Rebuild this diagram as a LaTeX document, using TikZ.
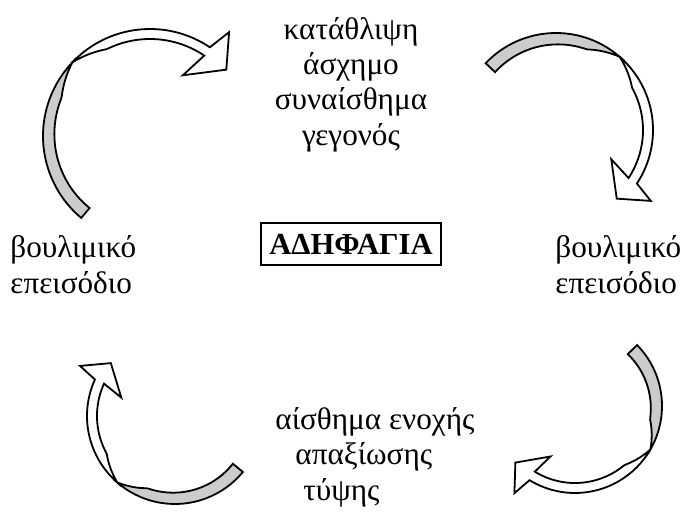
\documentclass[tikz,border=0pt]{standalone}
\usepackage{fontspec}
\setmainfont{Liberation Serif}
\usepackage{tikz}

\tikzset{
  backband/.style={fill=gray!40, draw=black, line width=0.9pt},
  frontband/.style={fill=white, draw=black, line width=0.9pt},
  phase/.style={font=\fontsize{15.6pt}{17.6pt}\selectfont, inner sep=0pt},
  titlebox/.style={draw, line width=1pt, font=\fontsize{15.3pt}{17.6pt}\selectfont\bfseries, inner xsep=4pt, inner ysep=5.5pt}
}

% centre x, centre y, outer radius, tail angle, twist angle, head angle
\newcommand{\cyclearrow}[6]{%
  \begin{scope}[shift={(#1,#2)}]
    \filldraw[backband] (#4:#3) arc[start angle=#4, end angle=#5, radius=#3]
      -- plot[domain=#5:#4, samples=50] (\x:{#3-min(10,(\x-(#5))/2)-3*(\x-(#5))/((#4)-(#5))}) -- cycle;
    \filldraw[frontband] (#5:#3) arc[start angle=#5, end angle=#6, radius=#3]
      -- ({#6-3.3}:{1.22*#3}) -- ({#6-15}:{0.945*#3}) -- ({#6+5.6}:{0.645*#3})
      -- plot[domain=#6:#5, samples=50] (\x:{#3-min(10,((#5)-\x)/2)}) -- cycle;
  \end{scope}}

\begin{document}
\begin{tikzpicture}[x=0.5pt, y=0.5pt]
\useasboundingbox (0,0) rectangle (691,521);

\cyclearrow{150}{385}{107}{230}{136.5}{56}
\cyclearrow{556}{391}{97}{136.5}{49}{-33.5}
\cyclearrow{575}{115}{87}{44.5}{-30}{-121.5}
\cyclearrow{175}{105}{88}{320.5}{229}{155.5}

\node[phase, align=center, anchor=base] (trigger) at (351,376) {κατάθλιψη\\άσχημο\\συναίσθημα\\γεγονός};
\node[phase, align=left, anchor=base west] (bingeleft) at (10,228) {βουλιμικό\\επεισόδιο};
\node[phase, align=left, anchor=base west] (bingeright) at (555,228) {βουλιμικό\\επεισόδιο};
\node[titlebox] (title) at (351,277) {ΑΔΗΦΑΓΙΑ};
\node[phase, align=left, anchor=base west] (guilt) at (275,21) {αίσθημα ενοχής\\\hspace*{10pt}απαξίωσης\\\hspace*{14pt}τύψης};

\end{tikzpicture}
\end{document}
